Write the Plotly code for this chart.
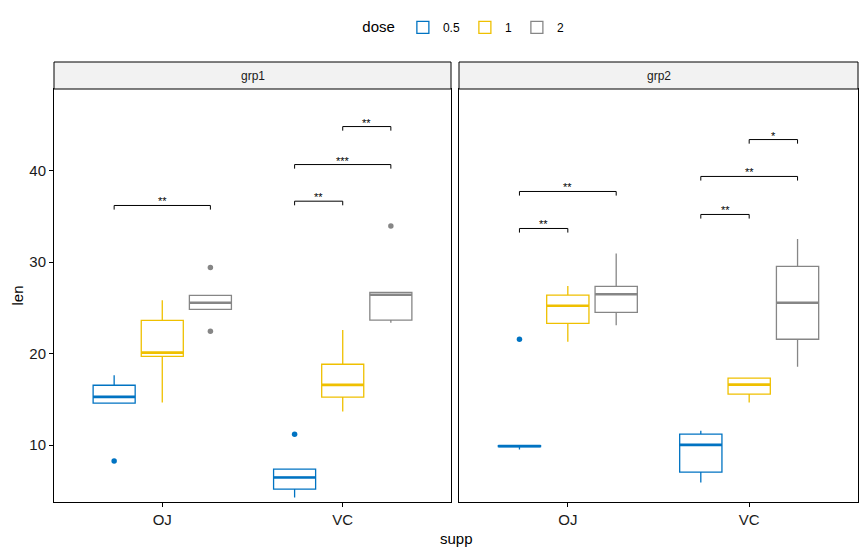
import plotly.graph_objects as go

# ---------------- data ----------------
supp_labels = ["OJ", "VC"]
supp_pos = [1, 2]
doses = ["0.5", "1", "2"]
dose_colors = ["#0073C2", "#EFC000", "#868686"]
dose_offsets = [-0.2667, 0.0, 0.2667]
groups = ["grp1", "grp2"]

# box statistics per group -> dose -> [OJ, VC]
q1 = {
    "grp1": {"0.5": [14.6, 5.2], "1": [19.7, 15.25], "2": [24.84, 23.67]},
    "grp2": {"0.5": [9.85, 7.07], "1": [23.31, 15.57], "2": [24.51, 21.57]},
}
median = {
    "grp1": {"0.5": [15.28, 6.48], "1": [20.11, 16.59], "2": [25.56, 26.43]},
    "grp2": {"0.5": [9.9, 10.04], "1": [25.23, 16.62], "2": [26.48, 25.56]},
}
q3 = {
    "grp1": {"0.5": [16.55, 7.38], "1": [23.64, 18.84], "2": [26.37, 26.69]},
    "grp2": {"0.5": [9.95, 11.21], "1": [26.4, 17.32], "2": [27.35, 29.53]},
}
lowerfence = {
    "grp1": {"0.5": [14.6, 4.3], "1": [14.66, 13.68], "2": [24.84, 23.38]},
    "grp2": {"0.5": [9.53, 5.93], "1": [21.31, 14.66], "2": [23.1, 18.58]},
}
upperfence = {
    "grp1": {"0.5": [17.64, 7.38], "1": [25.82, 22.58], "2": [26.37, 26.69]},
    "grp2": {"0.5": [9.95, 11.57], "1": [27.4, 17.32], "2": [30.95, 32.51]},
}
# outliers: (supp index, value)
outliers = {
    "grp1": {"0.5": [(0, 8.27), (1, 11.21)], "1": [], "2": [(0, 29.42), (0, 22.44), (1, 33.93)]},
    "grp2": {"0.5": [(0, 21.57)], "1": [], "2": []},
}
# significance brackets: (supp index, dose_a, dose_b, y, label)
brackets = {
    "grp1": [(0, 0, 2, 36.18, "**"), (1, 0, 1, 36.65, "**"),
             (1, 0, 2, 40.65, "***"), (1, 1, 2, 44.8, "**")],
    "grp2": [(0, 0, 1, 33.67, "**"), (0, 0, 2, 37.71, "**"),
             (1, 0, 1, 35.2, "**"), (1, 0, 2, 39.35, "**"), (1, 1, 2, 43.38, "*")],
}

y_range = [3.8, 48.9]
x_range = [0.4, 2.6]
box_w = 0.233
tip = 0.45

FONT = "Liberation Sans, Arial, sans-serif"

fig = go.Figure()

for gi, g in enumerate(groups):
    xa = "x" if gi == 0 else "x2"
    ya = "y" if gi == 0 else "y2"
    for di, d in enumerate(doses):
        col = dose_colors[di]
        xs = [p + dose_offsets[di] for p in supp_pos]
        fig.add_trace(go.Box(
            x=xs, q1=q1[g][d], median=median[g][d], q3=q3[g][d],
            lowerfence=lowerfence[g][d], upperfence=upperfence[g][d],
            width=box_w, whiskerwidth=0, fillcolor="white",
            line=dict(color=col, width=1.3), boxpoints=False,
            name=d, legendgroup=d, showlegend=(gi == 0),
            xaxis=xa, yaxis=ya, hoverinfo="skip",
        ))
        # thicker median lines (ggplot fatten)
        mx, my = [], []
        for xi, m in zip(xs, median[g][d]):
            mx += [xi - box_w / 2, xi + box_w / 2, None]
            my += [m, m, None]
        fig.add_trace(go.Scatter(x=mx, y=my, mode="lines",
                                 line=dict(color=col, width=2.6),
                                 showlegend=False, hoverinfo="skip",
                                 xaxis=xa, yaxis=ya))
        ol = outliers[g][d]
        if ol:
            fig.add_trace(go.Scatter(
                x=[supp_pos[s] + dose_offsets[di] for s, _ in ol],
                y=[v for _, v in ol], mode="markers",
                marker=dict(color=col, size=5.5),
                showlegend=False, hoverinfo="skip", xaxis=xa, yaxis=ya))
    # brackets
    for s, a, b, yv, lab in brackets[g]:
        xa_ = supp_pos[s] + dose_offsets[a]
        xb_ = supp_pos[s] + dose_offsets[b]
        fig.add_trace(go.Scatter(
            x=[xa_, xa_, xb_, xb_], y=[yv - tip, yv, yv, yv - tip],
            mode="lines", line=dict(color="black", width=1),
            showlegend=False, hoverinfo="skip", xaxis=xa, yaxis=ya))
        fig.add_annotation(x=(xa_ + xb_) / 2, y=yv, xref=xa, yref=ya,
                           text=lab, showarrow=False, yanchor="bottom",
                           yshift=-4, font=dict(family=FONT, size=11, color="black"))

d1 = [0.0, 397 / 804]
d2 = [405 / 804, 1.0]
axis_common = dict(showline=True, linecolor="black", linewidth=1, mirror=True,
                   showgrid=False, zeroline=False, ticks="outside", ticklen=4,
                   tickcolor="black", tickfont=dict(family=FONT, size=15, color="#1a1a1a"))

fig.update_layout(
    width=866, height=553,
    margin=dict(l=54, r=8, t=89, b=51),
    plot_bgcolor="white", paper_bgcolor="white",
    boxmode="overlay",
    xaxis=dict(domain=d1, range=x_range, tickvals=supp_pos, ticktext=supp_labels,
               anchor="y", **axis_common),
    xaxis2=dict(domain=d2, range=x_range, tickvals=supp_pos, ticktext=supp_labels,
                anchor="y2", **axis_common),
    yaxis=dict(range=y_range, tickvals=[10, 20, 30, 40], anchor="x", **axis_common),
    yaxis2=dict(range=y_range, anchor="x2", matches="y", showticklabels=False,
                **{k: v for k, v in axis_common.items() if k not in ("ticks",)}, ticks=""),
    legend=dict(orientation="h", x=0.511, xanchor="center", y=1.148, yanchor="middle",
                font=dict(family=FONT, size=12, color="black"),
                title=dict(text="dose", font=dict(family=FONT, size=15, color="black"))),
    font=dict(family=FONT),
)

strip_h = 27 / 413
for gi, g in enumerate(groups):
    dom = d1 if gi == 0 else d2
    fig.add_shape(type="rect", xref="paper", yref="paper",
                  x0=dom[0], x1=dom[1], y0=1, y1=1 + strip_h,
                  fillcolor="#F2F2F2", line=dict(color="black", width=1))
    fig.add_annotation(x=(dom[0] + dom[1]) / 2, y=1 + strip_h / 2, xref="paper", yref="paper",
                       text=g, showarrow=False, yanchor="middle", xanchor="center",
                       font=dict(family=FONT, size=12, color="#1a1a1a"))

fig.add_annotation(x=0.5, y=-36 / 413, xref="paper", yref="paper", text="supp",
                   showarrow=False, yanchor="middle", xanchor="center",
                   font=dict(family=FONT, size=15, color="black"))
fig.add_annotation(x=-37 / 804, y=0.5, xref="paper", yref="paper", text="len",
                   showarrow=False, textangle=-90, xanchor="center", yanchor="middle",
                   font=dict(family=FONT, size=15, color="black"))

fig.write_html("out.html", config={"displayModeBar": False},
               post_script="document.body.style.margin='0';")
